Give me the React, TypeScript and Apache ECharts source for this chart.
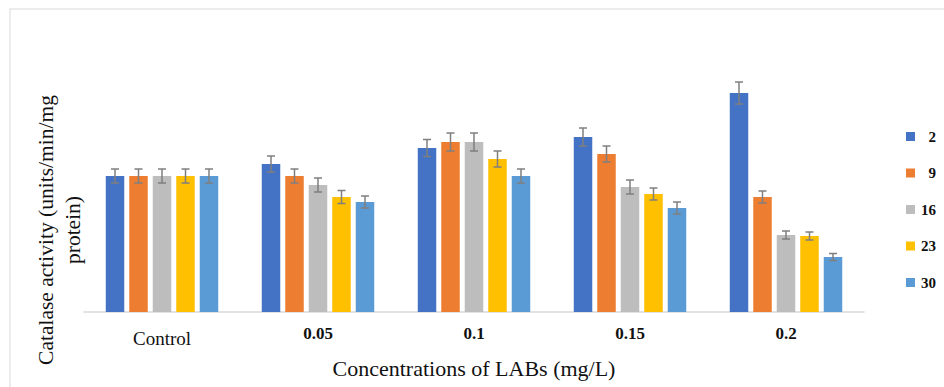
import React, { useEffect, useRef } from "react";
import * as echarts from "echarts";

const categories = ["Control", "0.05", "0.1", "0.15", "0.2"];
const seriesNames = ["2", "9", "16", "23", "30"];
const colors = ["#4472C4", "#ED7D31", "#BDBDBD", "#FFC000", "#5B9BD5"];

// values per series (day), across categories
const s2 = [13.6, 14.8, 16.4, 17.5, 21.9];
const s9 = [13.6, 13.6, 17.0, 15.8, 11.5];
const s16 = [13.6, 12.7, 17.0, 12.5, 7.7];
const s23 = [13.6, 11.5, 15.3, 11.8, 7.6];
const s30 = [13.6, 11.0, 13.6, 10.4, 5.5];

const e2 = [0.7, 0.8, 0.85, 0.9, 1.1];
const e9 = [0.7, 0.7, 0.9, 0.8, 0.6];
const e16 = [0.7, 0.7, 0.9, 0.7, 0.4];
const e23 = [0.7, 0.65, 0.8, 0.6, 0.4];
const e30 = [0.7, 0.6, 0.7, 0.6, 0.35];

const allValues = [s2, s9, s16, s23, s30];
const allErrors = [e2, e9, e16, e23, e30];

const SERIF = "'Liberation Serif', 'Times New Roman', serif";
const BAR_W = 18.5;
const PITCH = 23.5;

export default function App() {
  const ref = useRef<HTMLDivElement>(null);
  useEffect(() => {
    if (!ref.current) return;
    const chart = echarts.init(ref.current, undefined, { renderer: "svg" });
    const barSeries = seriesNames.map((name, i) => ({
      name,
      type: "bar",
      data: allValues[i],
      barWidth: BAR_W,
      barGap: "27%",
      itemStyle: { color: colors[i] },
      z: 2,
    }));
    const errSeries = seriesNames.map((name, i) => ({
      name: name + "_err",
      type: "custom",
      z: 5,
      silent: true,
      data: allValues[i].map((v, j) => [j, v, allErrors[i][j]]),
      encode: { x: 0, y: 1 },
      renderItem: (params: any, api: any) => {
        const x = api.value(0);
        const v = api.value(1);
        const e = api.value(2);
        const top = api.coord([x, v + e]);
        const bot = api.coord([x, v - e]);
        const cx = top[0] + (i - 2) * PITCH;
        const cap = 4;
        const style = { stroke: "#7f7f7f", lineWidth: 1.5 };
        return {
          type: "group",
          children: [
            { type: "line", shape: { x1: cx, y1: top[1], x2: cx, y2: bot[1] }, style },
            { type: "line", shape: { x1: cx - cap, y1: top[1], x2: cx + cap, y2: top[1] }, style },
            { type: "line", shape: { x1: cx - cap, y1: bot[1], x2: cx + cap, y2: bot[1] }, style },
          ],
        };
      },
    }));
    chart.setOption({
      animation: false,
      grid: { left: 84, right: 80, top: 62, bottom: 75 },
      legend: {
        data: seriesNames,
        orient: "vertical",
        left: 901,
        top: 124,
        itemWidth: 9,
        itemHeight: 9,
        itemGap: 21.5,
        icon: "rect",
        formatter: (n: string) => `{a|${n}}`,
        textStyle: {
          rich: {
            a: {
              width: 16,
              align: "right",
              fontFamily: SERIF,
              fontWeight: "bold",
              fontSize: 15,
              color: "#111",
              lineHeight: 14,
            },
          },
        },
      },
      graphic: [
        {
          type: "rect",
          shape: { x: 10, y: 9, width: 1000, height: 500 },
          style: { fill: "none", stroke: "#e6e6e6", lineWidth: 1.5 },
          silent: true,
        },
        {
          type: "text",
          x: 59,
          y: 230,
          rotation: Math.PI / 2,
          style: {
            text: "Catalase activity (units/min/mg\nprotein)",
            fontFamily: SERIF,
            fontSize: 21.5,
            lineHeight: 27,
            fill: "#111",
            align: "center",
            verticalAlign: "middle",
          },
        },
      ],
      xAxis: {
        type: "category",
        data: categories,
        axisLine: { lineStyle: { color: "#d9d9d9", width: 1.5 } },
        axisTick: { show: false },
        axisLabel: {
          margin: 13,
          formatter: (v: string) => (v === "Control" ? `{c|${v}}` : `{b|${v}}`),
          rich: {
            c: { fontFamily: SERIF, fontSize: 19, color: "#111", padding: [4, 0, 0, 0] },
            b: { fontFamily: SERIF, fontSize: 17, fontWeight: "bold", color: "#111" },
          },
        },
        name: "Concentrations of LABs (mg/L)",
        nameLocation: "middle",
        nameGap: 45,
        nameTextStyle: { fontFamily: SERIF, fontSize: 22, color: "#111" },
      },
      yAxis: {
        type: "value",
        min: 0,
        max: 25,
        axisLine: { show: false },
        axisTick: { show: false },
        axisLabel: { show: false },
        splitLine: { show: false },
      },
      series: [...barSeries, ...errSeries],
    });
    return () => chart.dispose();
  }, []);
  return <div ref={ref} style={{ width: 944, height: 387, position: "absolute", left: 0, top: 0 }} />;
}
